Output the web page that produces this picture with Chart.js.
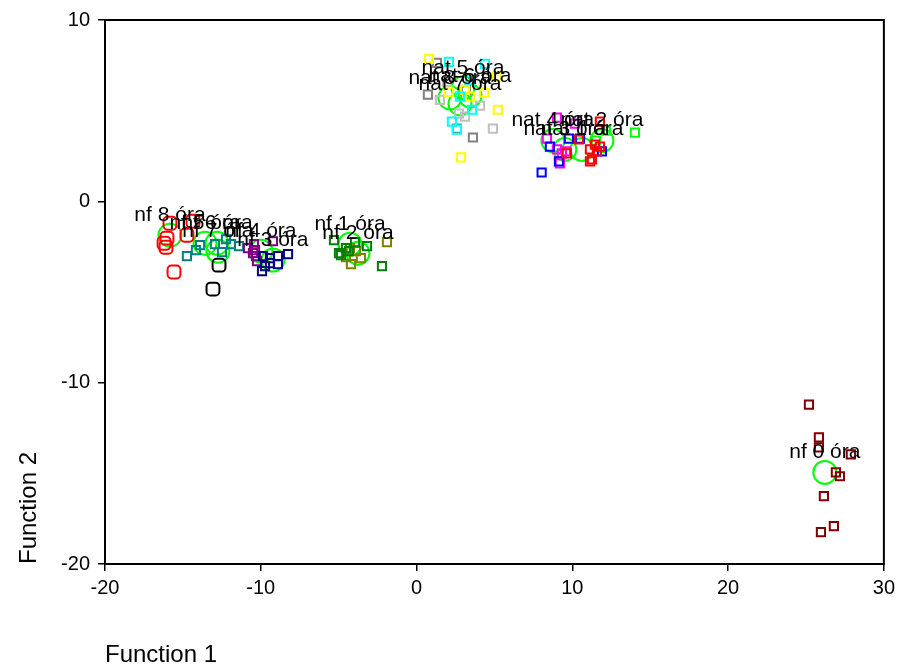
<!DOCTYPE html>
<html><head><meta charset="utf-8">
<script src="https://cdn.jsdelivr.net/npm/chart.js@4/dist/chart.umd.min.js"></script>
<style>html,body{margin:0;padding:0;background:#fff}</style>
</head><body>
<canvas id="c" width="900" height="668"></canvas>
<script>
// ---- data ----
const xTicks = [-20, -10, 0, 10, 20, 30];
const yTicks = [-20, -10, 0, 10];
const groupNames = ['nf 0 óra','nf 1 óra','nf 2 óra','nf 3 óra','nf 4 óra','nf 5 óra','nf 6 óra','nf 7 óra','nf 8 óra',
  'nat 1 óra','nat 2 óra','nat 3 óra','nat 4 óra','nat 5 óra','nat 6 óra','nat 7 óra','nat 8 óra'];
const groupColors = ['#800000','#008000','#808000','#000080','#800080','#008080','#008080','#000000','#ff0000',
  '#ff0000','#00ff00','#0000ff','#ff00ff','#00ffff','#ffff00','#c0c0c0','#808080'];

const nf0 = [[25.19,-11.21],[25.83,-13.02],[25.83,-13.57],[27.88,-13.96],[26.92,-14.95],[27.18,-15.16],[26.15,-16.26],[26.79,-17.91],[25.96,-18.24]];
const nf1 = [[-5.30,-2.14],[-4.98,-2.86],[-4.85,-2.97],[-4.53,-2.58],[-3.95,-2.25],[-3.18,-2.47],[-2.22,-3.57],[-4.34,-2.75]];
const nf2 = [[-1.90,-2.25],[-4.21,-3.46],[-3.57,-3.13],[-3.89,-2.75],[-4.53,-3.08],[-4.27,-2.58]];
const nf3 = [[-9.86,-3.02],[-9.73,-3.57],[-9.92,-3.85],[-9.41,-3.41],[-8.90,-3.02],[-8.90,-3.46],[-8.25,-2.91],[-9.41,-3.13]];
const nf4 = [[-10.82,-2.58],[-10.44,-2.36],[-10.37,-2.69],[-10.31,-3.02],[-10.24,-3.30],[-9.22,-2.20],[-10.50,-2.86]];
const nf5 = [[-14.74,-3.02],[-14.16,-2.69],[-13.90,-2.42]];
const nf6 = [[-12.94,-2.36],[-12.49,-2.80],[-12.23,-2.09],[-11.91,-2.36],[-11.40,-2.47]];
const nf7 = [[-12.68,-3.52],[-13.07,-4.84]];
const nf8 = [[-16.21,-2.31],[-16.02,-2.03],[-16.08,-2.53],[-15.83,-1.21],[-14.74,-1.87],[-14.35,-1.10],[-15.57,-3.90]];
const nat1 = [[11.77,4.40],[10.42,3.41],[9.65,2.64],[11.13,2.86],[11.58,2.75],[11.13,2.20],[11.26,2.31],[11.77,3.02],[11.45,3.13]];
const nat2 = [[14.02,3.79],[12.16,3.90],[11.52,3.35]];
const nat3 = [[8.56,3.02],[9.14,2.20],[8.03,1.59],[9.78,3.46],[10.49,3.46],[11.90,2.75]];
const nat4 = [[9.01,4.62],[8.37,3.46],[9.01,2.86],[9.20,2.09],[10.17,4.29],[9.33,2.64],[9.59,2.75]];
const nat5 = [[2.08,7.69],[4.39,7.58],[3.56,5.05],[2.27,4.40],[2.59,3.96],[3.43,6.70],[2.79,5.77]];
const nat6 = [[0.80,7.86],[4.33,5.99],[5.22,5.05],[2.85,2.42],[5.16,6.87],[3.11,6.15],[3.43,5.77],[2.08,6.04]];
const nat7 = [[1.50,5.60],[4.07,5.27],[4.90,4.01],[2.72,4.84],[1.95,6.59],[3.11,4.67]];
const nat8 = [[0.73,5.88],[3.62,3.52],[1.31,7.64],[3.17,6.15],[2.59,4.01]];
const groupPoints = [nf0,nf1,nf2,nf3,nf4,nf5,nf6,nf7,nf8,nat1,nat2,nat3,nat4,nat5,nat6,nat7,nat8];

const centroidX = [26.21,-4.27,-3.76,-9.22,-9.99,-13.58,-12.81,-12.75,-15.83,10.62,11.90,9.52,8.75,2.98,3.43,2.79,2.14];
const centroidY = [-14.95,-2.36,-2.86,-3.24,-2.75,-2.31,-2.31,-2.75,-1.87,2.86,3.35,2.86,3.35,6.26,5.82,5.38,5.71];

// ---- chart ----
const FONT = '"Liberation Sans", Arial, Helvetica, sans-serif';
const roundedGroups = ['nf 7 óra','nf 8 óra'];

const datasets = groupPoints.map((pts, i) => {
  const rounded = roundedGroups.includes(groupNames[i]);
  return {
    label: groupNames[i],
    data: pts.map(p => ({x: p[0], y: p[1]})),
    pointStyle: rounded ? 'rectRounded' : 'rect',
    pointRadius: rounded ? 7.5 : 5.8,
    borderColor: groupColors[i],
    backgroundColor: 'rgba(0,0,0,0)',
    pointBorderWidth: 2,
    showLine: false,
    order: 1
  };
});
datasets.push({
  label: 'centroids',
  data: centroidX.map((x, i) => ({x, y: centroidY[i]})),
  pointStyle: 'circle',
  pointRadius: 11.5,
  borderColor: '#00ff00',
  backgroundColor: 'rgba(0,0,0,0)',
  pointBorderWidth: 2,
  showLine: false,
  order: 100
});

const boxPlugin = {
  id: 'box',
  afterDraw(chart) {
    const {ctx, chartArea: a} = chart;
    ctx.save();
    ctx.strokeStyle = '#000';
    ctx.lineWidth = 2;
    ctx.strokeRect(a.left, a.top, a.right - a.left, a.bottom - a.top);
    ctx.restore();
  }
};
const labelPlugin = {
  id: 'centroidLabels',
  afterDatasetsDraw(chart) {
    const {ctx} = chart;
    const xs = chart.scales.x, ys = chart.scales.y;
    ctx.save();
    ctx.font = '21px ' + FONT;
    ctx.fillStyle = '#000';
    ctx.textAlign = 'center';
    ctx.textBaseline = 'middle';
    groupNames.forEach((name, i) => {
      const px = xs.getPixelForValue(centroidX[i]);
      const py = ys.getPixelForValue(centroidY[i]) - 20;
      ctx.fillText(name, px, py);
    });
    ctx.restore();
  }
};

new Chart(document.getElementById('c'), {
  type: 'scatter',
  data: { datasets },
  options: {
    responsive: false,
    animation: false,
    devicePixelRatio: 1,
    layout: { padding: { top: 17, right: 16, left: 0, bottom: 0 } },
    plugins: { legend: { display: false }, tooltip: { enabled: false } },
    scales: {
      x: {
        type: 'linear', min: -20, max: 30,
        afterBuildTicks: s => { s.ticks = xTicks.map(v => ({value: v})); },
        afterFit: s => { s.height = 104; },
        grid: { drawOnChartArea: false, drawTicks: true, tickLength: 7, color: '#000', lineWidth: 1.5 },
        border: { color: '#000', width: 2 },
        ticks: { color: '#000', font: { family: FONT, size: 20 }, padding: 5, maxRotation: 0 },
        title: { display: true, text: 'Function 1', align: 'start', color: '#000',
                 font: { family: FONT, size: 24, lineHeight: 1.0 }, padding: { top: 0, bottom: 1 } }
      },
      y: {
        type: 'linear', min: -20, max: 10,
        afterBuildTicks: s => { s.ticks = yTicks.map(v => ({value: v})); },
        afterFit: s => { s.width = 105; },
        grid: { drawOnChartArea: false, drawTicks: true, tickLength: 7, color: '#000', lineWidth: 1.5 },
        border: { color: '#000', width: 2 },
        ticks: { color: '#000', font: { family: FONT, size: 20 }, padding: 8 },
        title: { display: true, text: 'Function 2', align: 'start', color: '#000',
                 font: { family: FONT, size: 24, lineHeight: 1.0 }, padding: { top: 17, bottom: 0 } }
      }
    }
  },
  plugins: [boxPlugin, labelPlugin]
});
</script>
</body></html>
